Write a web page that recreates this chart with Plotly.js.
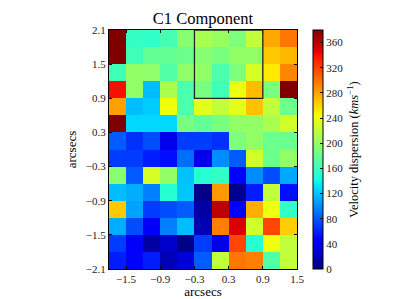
<!DOCTYPE html>
<html><head><meta charset="utf-8">
<script src="https://cdn.plot.ly/plotly-3.0.1.min.js"></script>
<style>html,body{margin:0;padding:0;background:#fff;}#chart{width:399px;height:299px;}</style>
</head><body><div id="chart"></div>
<script>
// column centres (arcsec)
const xCenters = [-1.65,-1.35,-1.05,-0.75,-0.45,-0.15,0.15,0.45,0.75,1.05,1.35];
// row centres, top to bottom (arcsec)
const yCentersTopDown = [1.95,1.65,1.35,1.05,0.75,0.45,0.15,-0.15,-0.45,-0.75,-1.05,-1.35,-1.65,-1.95];
// velocity dispersion rows, top to bottom
const row01 = [380,157,155,165,195,210,202,190,220,278,298];
const row02 = [380,162,178,178,182,195,188,200,200,265,272];
const row03 = [162,200,198,170,198,200,168,190,230,252,292];
const row04 = [340,200,118,210,168,188,162,240,270,188,380];
const row05 = [282,118,124,242,168,235,220,235,268,220,182];
const row06 = [380,128,128,128,188,178,188,200,200,210,228];
const row07 = [82,65,76,35,70,70,65,190,200,182,182];
const row08 = [70,70,58,52,88,35,100,82,228,182,200];
const row09 = [195,82,230,200,120,150,156,45,100,76,110];
const row10 = [118,112,95,150,122,3,285,5,58,220,52];
const row11 = [265,108,70,76,82,12,360,45,276,240,156];
const row12 = [112,76,40,95,118,17,295,350,228,318,263];
const row13 = [70,40,12,25,2,70,35,318,150,242,220];
const row14 = [58,45,58,17,30,82,220,298,295,170,220];
const xTicks = [-1.5,-0.9,-0.3,0.3,0.9,1.5];
const yTicks = [-2.1,-1.5,-0.9,-0.3,0.3,0.9,1.5,2.1];
const cbTicks = [0,40,80,120,160,200,240,280,320,360];
const boxX = [-0.3,0.9];
const boxY = [0.9,2.1];

const rowsTopDown = [row01,row02,row03,row04,row05,row06,row07,row08,row09,row10,row11,row12,row13,row14];
const z = rowsTopDown.slice().reverse();
const y = yCentersTopDown.slice().reverse();

const jet = [
 [0,'rgb(0,0,128)'],[0.11,'rgb(0,0,255)'],[0.125,'rgb(0,0,255)'],
 [0.34,'rgb(0,219,255)'],[0.35,'rgb(0,229,247)'],[0.375,'rgb(20,255,226)'],
 [0.64,'rgb(243,255,8)'],[0.65,'rgb(251,246,0)'],[0.66,'rgb(255,236,0)'],
 [0.89,'rgb(255,19,0)'],[0.91,'rgb(232,0,0)'],[1,'rgb(128,0,0)']
];
const serif = 'Liberation Serif, DejaVu Serif, serif';

const trace = {
  type:'heatmap', x:xCenters, y:y, z:z, colorscale:jet, zmin:0, zmax:380,
  colorbar:{
    x:1.085, xanchor:'left', xpad:0, y:0.5, yanchor:'middle', len:1, ypad:0,
    thickness:10, outlinewidth:1, outlinecolor:'#000',
    tickvals:cbTicks, ticks:'inside', ticklen:3, tickcolor:'#000',
    tickfont:{family:serif, size:11, color:'#222'},
    title:{text:'Velocity dispersion (<i>kms</i><sup>−1</sup>)', side:'right',
           font:{family:serif, size:12.5, color:'#000'}}
  },
  hoverinfo:'skip'
};

const layout = {
  width:399, height:299,
  margin:{l:109, r:102, t:30, b:30},
  paper_bgcolor:'#fff', plot_bgcolor:'#fff',
  title:{text:'C1 Component', x:0.5, xref:'paper', y:1-18/299, yref:'container', yanchor:'middle',
         font:{family:serif, size:16.5, color:'#000'}},
  xaxis:{range:[-1.8,1.5], tickvals:xTicks, ticktext:xTicks.map(v=>(v<0?'−':'')+Math.abs(v).toFixed(1)),
         showline:true, mirror:'ticks', linecolor:'#000', linewidth:1,
         ticks:'inside', ticklen:3, tickcolor:'#000', showgrid:false, zeroline:false,
         tickfont:{family:serif, size:11, color:'#222'},
         title:{text:'arcsecs', font:{family:serif, size:13, color:'#000'}, standoff:3}},
  yaxis:{range:[-2.1,2.1], tickvals:yTicks, ticktext:yTicks.map(v=>(v<0?'−':'')+Math.abs(v).toFixed(1)),
         showline:true, mirror:'ticks', linecolor:'#000', linewidth:1,
         ticks:'inside', ticklen:3, tickcolor:'#000', showgrid:false, zeroline:false,
         tickfont:{family:serif, size:11, color:'#222'},
         title:{text:'arcsecs', font:{family:serif, size:13, color:'#000'}, standoff:6}},
  shapes:[{type:'rect', xref:'x', yref:'y', x0:boxX[0], x1:boxX[1], y0:boxY[0], y1:boxY[1],
           line:{color:'#222', width:1.3}}]
};
Plotly.newPlot('chart',[trace],layout,{displayModeBar:false, staticPlot:true});
</script></body></html>
